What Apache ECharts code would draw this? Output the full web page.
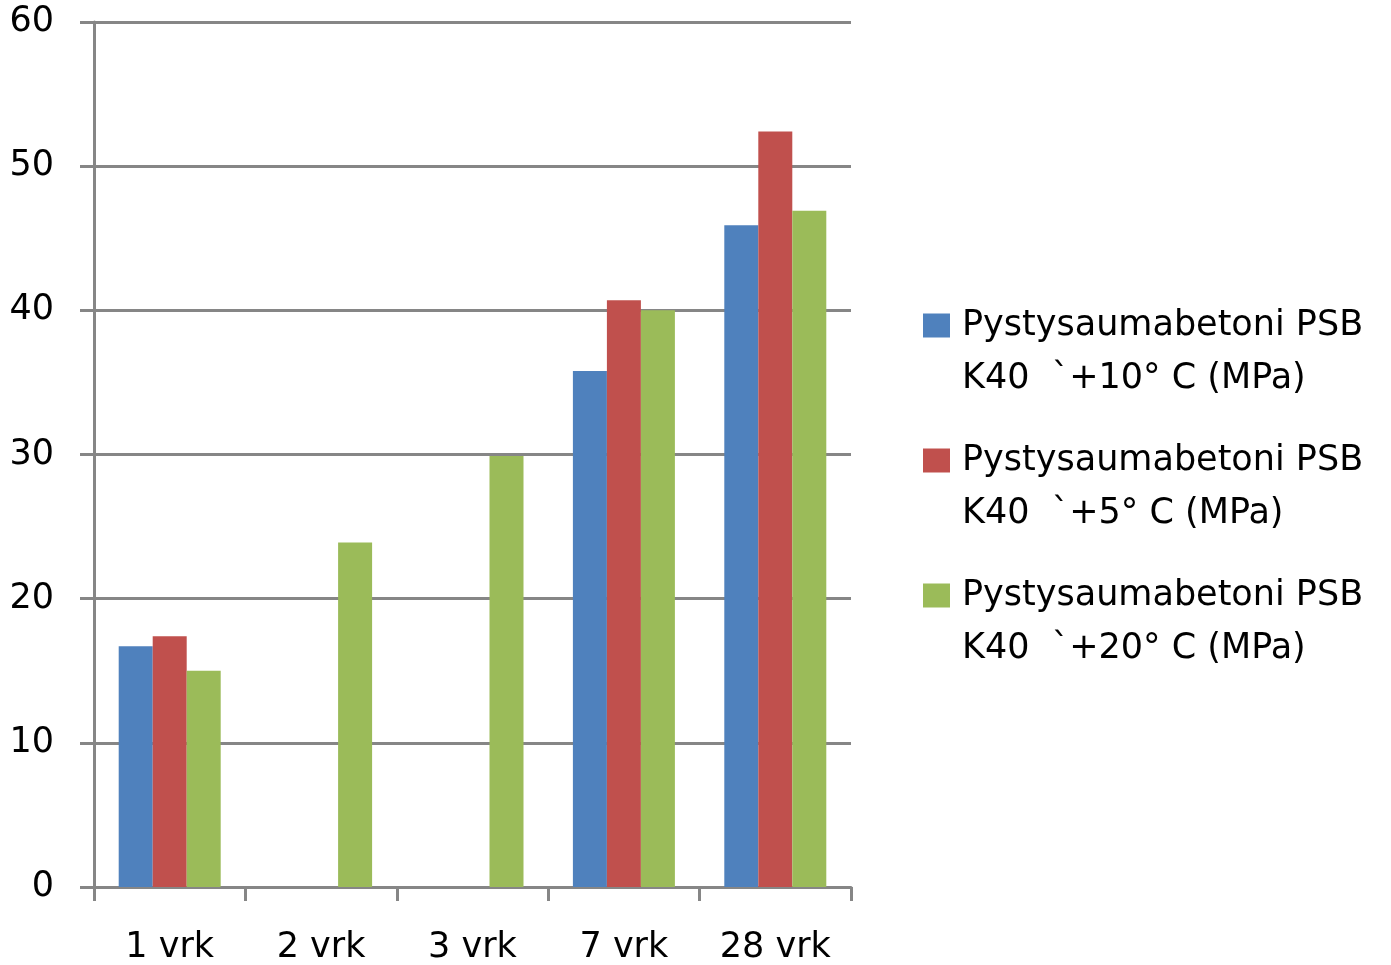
<!DOCTYPE html>
<html>
<head>
<meta charset="utf-8">
<script src="https://cdn.jsdelivr.net/npm/echarts@6/dist/echarts.min.js"></script>
<style>html,body{margin:0;padding:0;background:#fff;}#c{width:1391px;height:965px;}</style>
</head>
<body>
<div id="c"></div>
<script>
const categories = ['1 vrk', '2 vrk', '3 vrk', '7 vrk', '28 vrk'];
const seriesNames = [
  'Pystysaumabetoni PSB\nK40  `+10° C (MPa)',
  'Pystysaumabetoni PSB\nK40  `+5° C (MPa)',
  'Pystysaumabetoni PSB\nK40  `+20° C (MPa)'
];
const plus10 = [16.7, null, null, 35.8, 45.9];
const plus5 = [17.4, null, null, 40.7, 52.4];
const plus20 = [15.0, 23.9, 29.9, 40.0, 46.9];
const yTicks = { min: 0, max: 60, interval: 10 };
const colors = ['#4F81BD', '#C0504D', '#9BBB59'];

const font = 'DejaVu Sans';
const chart = echarts.init(document.getElementById('c'));
const lineCol = '#868686';
const firstLine = n => n.split('\n')[0];
const secondLine = n => n.split('\n')[1];
chart.setOption({
  animation: false,
  color: colors,
  grid: { left: 94, right: 540, top: 22, bottom: 78, containLabel: false },
  legend: [
    {
      orient: 'vertical', left: 923, top: 299, padding: 0, itemWidth: 27, itemHeight: 24, itemGap: 82,
      icon: 'rect', selectedMode: false,
      formatter: firstLine,
      textStyle: { fontFamily: font, fontSize: 35, color: '#000', lineHeight: 53, padding: [0, 0, 0, 7] },
      data: seriesNames
    },
    {
      orient: 'vertical', left: 923, top: 352, padding: 0, itemWidth: 27, itemHeight: 24, itemGap: 82,
      icon: 'rect', selectedMode: false,
      itemStyle: { opacity: 0 },
      formatter: secondLine,
      textStyle: { fontFamily: font, fontSize: 35, color: '#000', lineHeight: 53, padding: [0, 0, 0, 7] },
      data: seriesNames
    }
  ],
  xAxis: {
    type: 'category', data: categories,
    axisLine: { lineStyle: { color: lineCol, width: 3 } },
    axisTick: { show: true, length: 14, lineStyle: { color: lineCol, width: 3 }, alignWithLabel: false },
    axisLabel: { fontFamily: font, fontSize: 35, color: '#000', margin: 43 },
    splitLine: { show: false }
  },
  yAxis: {
    type: 'value', min: yTicks.min, max: yTicks.max, interval: yTicks.interval,
    axisLine: { show: true, lineStyle: { color: lineCol, width: 3 } },
    axisTick: { show: true, length: 14, lineStyle: { color: lineCol, width: 3 } },
    axisLabel: { fontFamily: font, fontSize: 35, color: '#000', margin: 40, padding: [5, 0, 0, 0] },
    splitLine: { show: true, lineStyle: { color: lineCol, width: 3 } }
  },
  series: [
    { name: seriesNames[0], type: 'bar', data: plus10, barWidth: 34, barGap: '0%' },
    { name: seriesNames[1], type: 'bar', data: plus5, barWidth: 34, barGap: '0%' },
    { name: seriesNames[2], type: 'bar', data: plus20, barWidth: 34, barGap: '0%' }
  ]
});
</script>
</body>
</html>
